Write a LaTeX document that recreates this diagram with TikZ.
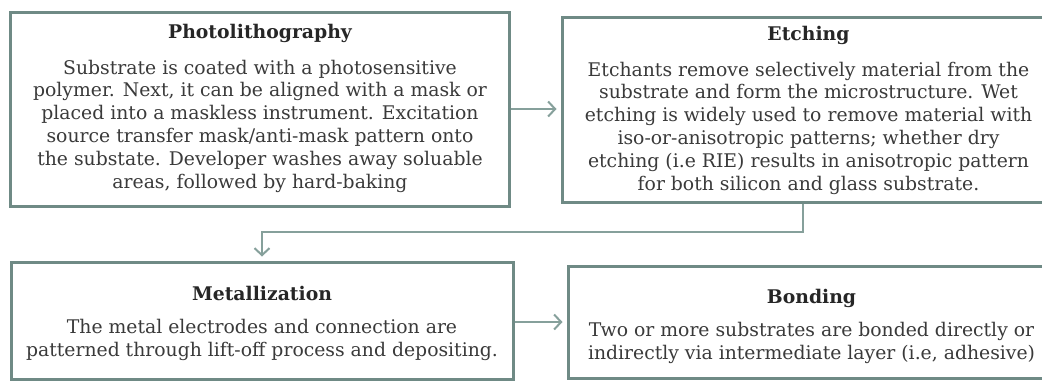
\documentclass[tikz,border=0pt]{standalone}
\usepackage{fontspec}
\setmainfont{DejaVu Serif}
\usetikzlibrary{arrows.meta,calc}
\definecolor{boxc}{HTML}{6F8A85}
\definecolor{linec}{HTML}{86A09B}
\definecolor{txt}{HTML}{3A3A3A}
\definecolor{ttlc}{HTML}{262626}
\begin{document}
\begin{tikzpicture}[x=1pt,y=-1pt,
  stage/.style={draw=boxc, line width=3pt, inner sep=0pt, fill=white},
  ttl/.style={font=\fontsize{18.8}{22.8}\selectfont\bfseries, text=ttlc, inner sep=0pt, anchor=base},
  body/.style={font=\fontsize{18.8}{22.8}\selectfont, text=txt, inner sep=0pt, align=center, anchor=base},
  conn/.style={draw=linec, line width=2pt},
  arr/.style={conn, -{Straight Barb[length=7pt,width=15pt,line width=2pt]}, shorten >=4pt}]
\useasboundingbox (0,0) rectangle (1042,381);
\begin{scope}
\clip (0,0) rectangle (1042,381);
% boxes
\node[stage, minimum width=499pt, minimum height=193.5pt] (p) at (260,109.25) {};
\node[stage, minimum width=493pt, minimum height=185pt] (e) at (808.5,109.5) {};
\node[stage, minimum width=502pt, minimum height=117.5pt] (m) at (262,320.75) {};
\node[stage, minimum width=487pt, minimum height=112pt] (b) at (811.5,322) {};
% texts
\node[ttl] (pt) at (260,38.3) {Photolithography};
\node[body] (pb) at (260,188) {Substrate is coated with a photosensitive\\polymer. Next, it can be aligned with a mask or\\placed into a maskless instrument. Excitation\\source transfer mask/anti-mask pattern onto\\the substate. Developer washes away soluable\\areas, followed by hard-baking};
\node[ttl] (et) at (808.5,40) {Etching};
\node[body] (eb) at (808.5,190) {Etchants remove selectively material from the\\substrate and form the microstructure. Wet\\etching is widely used to remove material with\\iso-or-anisotropic patterns; whether dry\\etching (i.e RIE) results in anisotropic pattern\\for both silicon and glass substrate.};
\node[ttl] (mt) at (262,300) {Metallization};
\node[body] (mb) at (262,356.5) {The metal electrodes and connection are\\patterned through lift-off process and depositing.};
\node[ttl] (bt) at (811.5,303) {Bonding};
\node[body] (bb) at (811.5,359.5) {Two or more substrates are bonded directly or\\indirectly via intermediate layer (i.e, adhesive)};
% connectors
\coordinate (c1) at (803,232);
\coordinate (c2) at (262,232);
\draw[arr] (p.east |- 0,109) -- (e.west |- 0,109);
\draw[arr] (e.south -| c1) -- (c1) -- (c2) -- (m.north -| c2);
\draw[arr] (m.east |- 0,322) -- (b.west |- 0,322);
\end{scope}
\end{tikzpicture}
\end{document}
